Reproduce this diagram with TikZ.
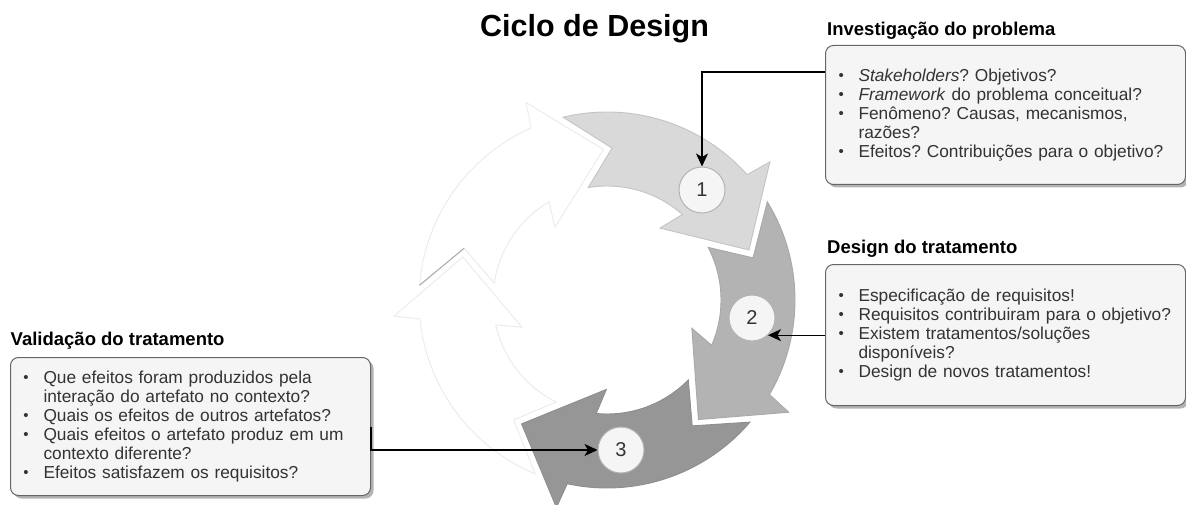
\documentclass[tikz,border=0pt]{standalone}
\usepackage{fontspec}
\setmainfont{Liberation Sans}
\usetikzlibrary{arrows.meta,calc,shadows}
\frenchspacing
\definecolor{boxfill}{HTML}{F5F5F5}
\definecolor{boxline}{HTML}{666666}
\definecolor{shadowc}{HTML}{B3B3B3}
\definecolor{aone}{HTML}{D9D9D9}
\definecolor{aonel}{HTML}{C4C4C4}
\definecolor{atwo}{HTML}{B3B3B3}
\definecolor{atwol}{HTML}{A9A9A9}
\definecolor{athree}{HTML}{969696}
\definecolor{athreel}{HTML}{8E8E8E}
\definecolor{faded}{HTML}{EBEBEB}
\definecolor{fadeddark}{HTML}{ABABAB}
\definecolor{numc}{HTML}{333333}
\definecolor{circl}{HTML}{B3B3B3}
\newcommand{\bul}{\makebox[25pt][l]{\hspace{5pt}\raisebox{0.5pt}{\fontsize{15}{15}\selectfont •}}}
\newcommand{\cont}{\hspace*{25pt}}
% one arrow of the cycle, rotated by #1, fill #2, border #3, underlay colour #4
\newcommand{\cycarrow}[4]{%
  \begin{scope}[rotate=#1]
    \path[draw=#4, line width=4pt]
      (103.5:188) arc[start angle=103.5, end angle=41.8, radius=188]
      -- (40.3:213.6) -- (19.4:150.5) -- (53.6:89.4) -- (48.6:114)
      arc[start angle=48.6, end angle=99.5, radius=114] -- (88.1:152) -- cycle;
    \path[fill=#2, draw=#3, line width=0.9pt, line join=miter]
      (103.5:188) arc[start angle=103.5, end angle=41.8, radius=188]
      -- (40.3:213.6) -- (19.4:150.5) -- (53.6:89.4) -- (48.6:114)
      arc[start angle=48.6, end angle=99.5, radius=114] -- (88.1:152) -- cycle;
  \end{scope}}
\begin{document}
\begin{tikzpicture}[x=1pt, y=-1pt,
  ttl/.style={anchor=base west, inner sep=0pt, font=\bfseries\fontsize{18.5}{22}\selectfont},
  infobox/.style={draw=boxline, fill=boxfill, line width=1pt, rounded corners=8pt,
    anchor=north west, minimum width=360pt, text width=344pt, inner xsep=8pt, inner ysep=0pt,
    align=left, text=numc, font=\fontsize{17.3}{19}\selectfont,
    drop shadow={shadow xshift=3pt, shadow yshift=-3pt, fill=shadowc, opacity=1}},
  numcirc/.style={circle, minimum size=46pt, inner sep=0pt, fill=boxfill, draw=circl,
    line width=1pt, text=numc, font=\fontsize{20}{24}\selectfont},
  conn/.style={line width=1.3pt, draw=black, -{Stealth[length=13pt, width=12pt, inset=3.5pt]}}]
\useasboundingbox (0,0) rectangle (1186,505);

% cycle of arrows
\begin{scope}[shift={(607,300)}, x=1pt, y=1pt]
  \cycarrow{72}{white}{faded}{white}
  \begin{scope}[rotate=72]
    \draw[fadeddark, line width=1pt] (103.5:188) -- (88.1:152);
  \end{scope}
  \cycarrow{144}{white}{faded}{white}
  \cycarrow{-144}{athree}{athreel}{white}
  \cycarrow{-72}{atwo}{atwol}{white}
  \cycarrow{0}{aone}{aonel}{white}
\end{scope}

% title
\node[anchor=base west, inner sep=0pt, font=\bfseries\fontsize{30.5}{36}\selectfont] (title) at (480,37) {Ciclo de Design};

% box titles
\node[ttl] (t1) at (827,35.5) {Investigação do problema};
\node[ttl] (t2) at (827,253) {Design do tratamento};
\node[ttl] (t3) at (10.5,345) {Validação do tratamento};

% boxes
\node[infobox, minimum height=139pt] (box1) at (825,45) {%
\bul\textit{Stakeholders}? Objetivos?\\
\bul\textit{Framework} do problema conceitual?\\
\bul Fenômeno? Causas, mecanismos,\\
\cont razões?\\
\bul Efeitos? Contribuições para o objetivo?};

\node[infobox, minimum height=141pt] (box2) at (825,264) {%
\bul Especificação de requisitos!\\
\bul Requisitos contribuiram para o objetivo?\\
\bul Existem tratamentos/soluções\\
\cont disponíveis?\\
\bul Design de novos tratamentos!};

\node[infobox, minimum height=138pt] (box3) at (10,357) {%
\bul Que efeitos foram produzidos pela\\
\cont interação do artefato no contexto?\\
\bul Quais os efeitos de outros artefatos?\\
\bul Quais efeitos o artefato produz em um\\
\cont contexto diferente?\\
\bul Efeitos satisfazem os requisitos?};

% numbered circles
\node[numcirc] (c1) at (702,190) {1};
\node[numcirc] (c2) at (752,318) {2};
\node[numcirc] (c3) at (621,450) {3};

% connectors
\coordinate (p2) at (c2.-47.6);
\draw[conn] ($(box1.north west)+(0,27)$) -| (c1.north);
\draw[conn] (p2 -| box2.west) -- (p2);
\draw[conn] (box3.east) |- (c3.west);
\end{tikzpicture}
\end{document}
